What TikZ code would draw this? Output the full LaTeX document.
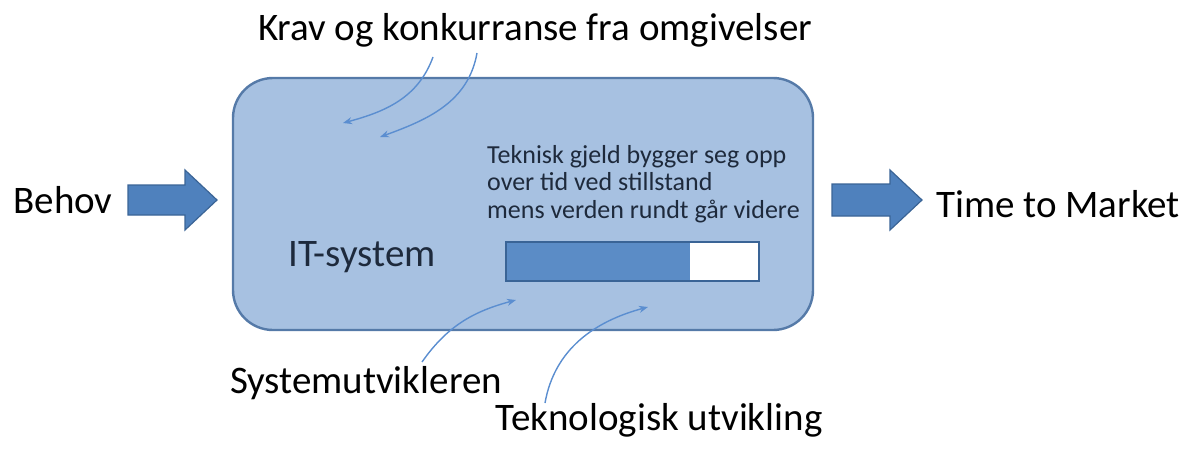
\documentclass[tikz,border=0pt]{standalone}
\usepackage{fontspec}
\setmainfont{Carlito}
\usetikzlibrary{arrows.meta}
\definecolor{boxfill}{HTML}{A7C1E1}
\definecolor{boxline}{HTML}{557AA8}
\definecolor{arrfill}{HTML}{4F81BD}
\definecolor{arrline}{HTML}{3A6496}
\definecolor{barfill}{HTML}{5B8CC6}
\definecolor{thin}{HTML}{5B8ED0}
\definecolor{inktext}{HTML}{1E2A3C}
\tikzset{
  bigtext/.style={inner sep=0pt, anchor=base, font=\fontsize{39}{46}\selectfont},
  smalltext/.style={inner sep=0pt, anchor=base west, font=\fontsize{26}{28}\selectfont, text=inktext},
  blockarrow/.style={fill=arrfill, draw=arrline, line width=1.2pt, line join=miter},
  thinarrow/.style={draw=thin, line width=1.4pt, -{Stealth[length=9pt,width=7pt]}},
}
\begin{document}
\begin{tikzpicture}[x=1pt,y=-1pt]
\useasboundingbox (0,0) rectangle (1200,458);
% main box
\draw[fill=boxfill, draw=boxline, line width=2.4pt, rounded corners=40pt] (233,78) rectangle (813,330);
% progress bar
\draw[fill=white, draw=arrline, line width=1.8pt] (506,242) rectangle (759,281);
\fill[barfill] (507,243) rectangle (690,280);
\draw[draw=arrline, line width=1.8pt] (506,242) rectangle (759,281);
% block arrows
\draw[blockarrow] (128,185) -- (185,185) -- (185,170) -- (217,200) -- (185,230) -- (185,215) -- (128,215) -- cycle;
\draw[blockarrow] (832,184) -- (890,184) -- (890,170) -- (922,200) -- (890,230) -- (890,216) -- (832,216) -- cycle;
% texts
\node[bigtext] (behov) at (63,213) {Behov};
\node[bigtext] (ttm) at (1058,217) {Time to Market};
\node[bigtext] (krav) at (535,40) {Krav og konkurranse fra omgivelser};
\node[bigtext, text=inktext] (it) at (362,266) {IT-system};
\node[smalltext] (tek) at (487,163) {Teknisk gjeld bygger seg opp};
\node[smalltext] (tek2) at (487,190) {over tid ved stillstand};
\node[smalltext] (tek3) at (487,218) {mens verden rundt går videre};
\node[bigtext] (sys) at (366,393) {Systemutvikleren};
\node[bigtext] (tekn) at (659,430) {Teknologisk utvikling};
% thin arrows
\coordinate (k1) at (433,57);
\coordinate (k2) at (477,53);
\coordinate (e1) at (343,123);
\coordinate (e2) at (380,137);
\coordinate (s1) at (422,362);
\coordinate (f1) at (516,300);
\coordinate (s2) at (545,403);
\coordinate (f2) at (648,307);
\draw[thinarrow] (k1) to[out=-110, in=15] (e1);
\draw[thinarrow] (k2) to[out=-100, in=20] (e2);
\draw[thinarrow] (s1) to[out=55, in=195] (f1);
\draw[thinarrow] (s2) to[out=80, in=195] (f2);
\end{tikzpicture}
\end{document}
